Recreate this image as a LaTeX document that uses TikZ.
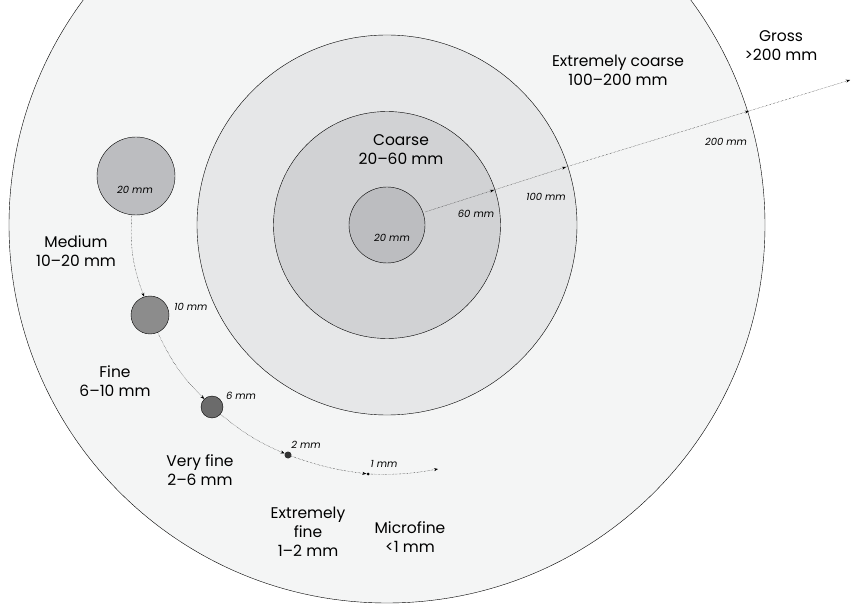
\documentclass[tikz,border=0pt]{standalone}
\usepackage{fontspec}
\setmainfont{Poppins}
\usetikzlibrary{arrows.meta}
\definecolor{gross}{HTML}{F4F5F5}
\definecolor{xcoarse}{HTML}{E6E7E8}
\definecolor{coarse}{HTML}{D1D2D4}
\definecolor{core}{HTML}{BCBDC0}
\tikzset{zone/.style={circle,draw,thin,inner sep=0pt},
  lab/.style={align=center,font=\fontsize{15.5}{19}\selectfont},
  mm/.style={font=\fontsize{10}{11}\selectfont\itshape},
  flow/.style={densely dotted,thin,-{Stealth[length=4pt,width=3pt]}}}
\begin{document}
\begin{tikzpicture}[x=1pt,y=-1pt]
\useasboundingbox (0,0) rectangle (863,604);
\begin{scope}
\clip (0,0) rectangle (863,604);
\node[zone,fill=gross,minimum size=756] (gr) at (387,225){};
\end{scope}
\node[zone,fill=xcoarse,minimum size=380] (xc) at (387,225){};
\node[zone,fill=coarse,minimum size=227] (co) at (387,225){};
\node[zone,fill=core,minimum size=76] (in) at (387,225){};
% pebbles
\node[zone,fill=core,minimum size=78] (p20) at (136,176){};
\node[zone,fill=black!45,minimum size=38] (p10) at (150,315){};
\node[zone,fill=black!58,minimum size=22] (p6) at (212,407){};
\node[circle,fill=black!80,inner sep=0pt,minimum size=7] (p2) at (288,455){};
\node[circle,fill=black,inner sep=0pt,minimum size=3] (p1) at (368,474){};
\coordinate (pend) at (438,469);
\draw[flow] (p20) to[bend right=12] (p10);
\draw[flow] (p10) to[bend right=10] (p6);
\draw[flow] (p6) to[bend right=8] (p2);
\draw[flow] (p2) to[bend right=6] (p1);
\draw[flow] (p1) to[bend right=6] (pend);
% radius
\coordinate (r0) at (425,212);
\coordinate (r60) at (494,190);
\coordinate (r100) at (566,167);
\coordinate (r200) at (749,111);
\coordinate (rend) at (850,80);
\draw[flow] (r0) -- (r60);
\draw[flow] (r60) -- (r100);
\draw[flow] (r100) -- (r200);
\draw[flow] (r200) -- (rend);
% labels
\node[lab] (lxc) at (618,70){Extremely coarse\\100--200 mm};
\node[lab] (lgr) at (781,46){Gross\\>200 mm};
\node[lab] (lco) at (401,150){Coarse\\20--60 mm};
\node[lab] (lme) at (76,251){Medium\\10--20 mm};
\node[lab] (lfi) at (115,381){Fine\\6--10 mm};
\node[lab] (lvf) at (200,470){Very fine\\2--6 mm};
\node[lab] (lef) at (308,532){Extremely\\fine\\1--2 mm};
\node[lab] (lmi) at (410,537){Microfine\\<1 mm};
\node[mm] at (135,190){20 mm};
\node[mm] at (191,307){10 mm};
\node[mm] at (241,396){6 mm};
\node[mm] at (306,445){2 mm};
\node[mm] at (384,464){1 mm};
\node[mm] at (392,238){20 mm};
\node[mm] at (476,214){60 mm};
\node[mm] at (546,197){100 mm};
\node[mm] at (726,142){200 mm};
\end{tikzpicture}
\end{document}
